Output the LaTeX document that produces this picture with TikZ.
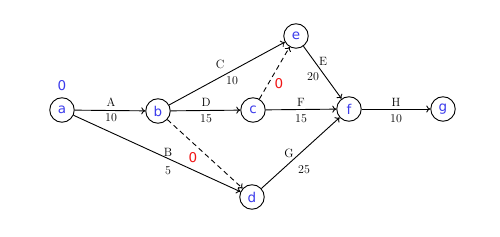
\documentclass[tikz,border=0pt]{standalone}
\usepackage{fontspec}
\newfontfamily\nodefont{DejaVu Sans}
\usetikzlibrary{arrows.meta}
\definecolor{nblue}{RGB}{60,60,235}
\definecolor{nred}{RGB}{240,20,20}
\tikzset{
  ev/.style={circle, draw, line width=0.9pt, minimum size=24.5pt, inner sep=0pt, text=nblue, font=\nodefont\fontsize{13.5}{13.5}\selectfont},
  act/.style={line width=0.9pt, -{To[length=4pt,width=7pt]}},
  dum/.style={act, dash pattern=on 5pt off 3.5pt},
  lab/.style={font=\fontsize{12}{12}\selectfont, inner sep=0pt},
  num/.style={font=\nodefont\fontsize{13.5}{13.5}\selectfont, inner sep=0pt},
}
\begin{document}
\begin{tikzpicture}[x=1pt,y=-1pt]
\useasboundingbox (0,0) rectangle (500,237);
\node[ev] (a) at (62,110) {a};
\node[ev] (b) at (158,111) {b};
\node[ev] (c) at (253,110) {c};
\node[ev] (e) at (296,36) {e};
\node[ev] (f) at (349,109) {f};
\node[ev] (g) at (443,109) {g};
\node[ev] (d) at (252,197) {d};
\draw[act] (a) -- (b);
\draw[act] (a) -- (d);
\draw[act] (b) -- (e);
\draw[act] (b) -- (c);
\draw[dum] (b) -- (d);
\draw[dum] (c) -- (e);
\draw[act] (c) -- (f);
\draw[act] (e) -- (f);
\draw[act] (d) -- (f);
\draw[act] (f) -- (g);
\node[num, text=nblue] (n0) at (62,86) {0};
\node[lab] (lA) at (111,102) {A};
\node[lab] (l10a) at (111,118) {10};
\node[lab] (lD) at (206,102) {D};
\node[lab] (l15d) at (206,119) {15};
\node[lab] (lB) at (168,152) {B};
\node[lab] (l5) at (168,171) {5};
\node[num, text=nred] (r1) at (193,158) {0};
\node[lab] (lC) at (220,64) {C};
\node[lab] (l10c) at (232,81) {10};
\node[num, text=nred] (r2) at (279,84) {0};
\node[lab] (lE) at (323,61) {E};
\node[lab] (l20) at (313,77) {20};
\node[lab] (lF) at (301,102) {F};
\node[lab] (l15f) at (301,119) {15};
\node[lab] (lG) at (289,153) {G};
\node[lab] (l25) at (304,170) {25};
\node[lab] (lH) at (396,102) {H};
\node[lab] (l10h) at (396,119) {10};
\end{tikzpicture}
\end{document}
